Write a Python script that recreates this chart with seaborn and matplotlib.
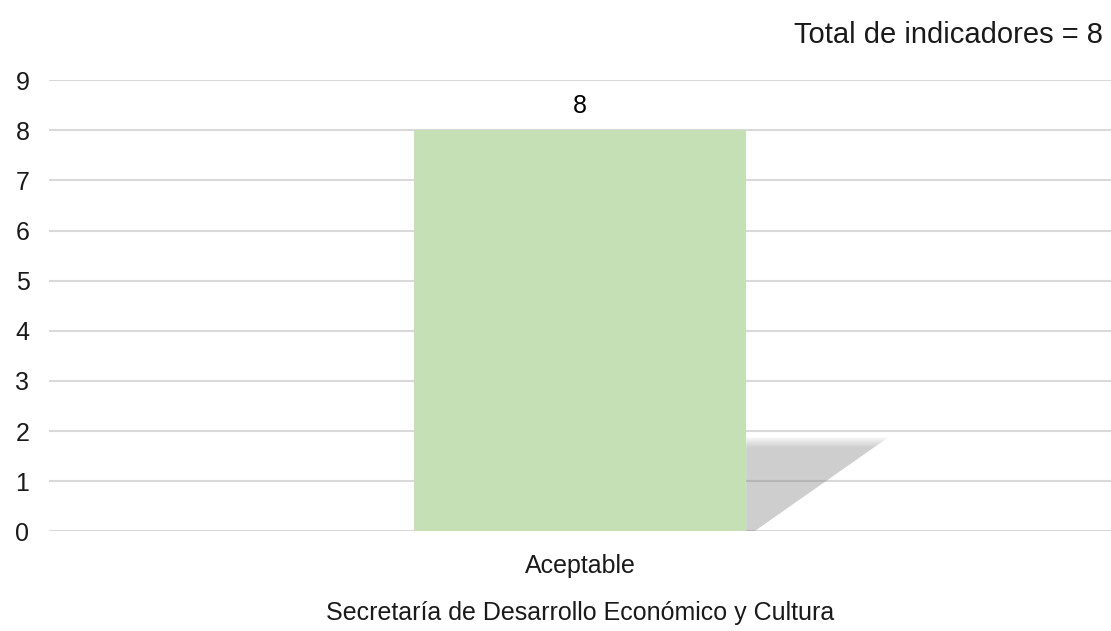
import matplotlib
matplotlib.use('Agg')
import matplotlib.pyplot as plt
import seaborn as sns
import pandas as pd
from matplotlib.patches import Polygon

# datos
categorias = ['Aceptable']
valores = [8]
total_indicadores = 8
titulo = 'Total de indicadores = ' + str(total_indicadores)
etiqueta_x = 'Secretaría de Desarrollo Económico y Cultura'
marcas_y = list(range(0, 10))

sns.set_theme(style='white')
plt.rcParams['font.family'] = ['Liberation Sans', 'DejaVu Sans']

df = pd.DataFrame({'categoria': categorias, 'valor': valores})

fig, ax = plt.subplots(figsize=(11.11, 6.31), dpi=100)
fig.subplots_adjust(left=0.044, right=1.0, top=0.873, bottom=0.158)

sns.barplot(data=df, x='categoria', y='valor', color='#C5E0B4', saturation=1,
            width=0.313, linewidth=0, ax=ax, zorder=3)

# sombra difusa a la derecha de la barra (capas superpuestas)
barra = ax.patches[0]
x0 = barra.get_x() + barra.get_width()
alto = barra.get_height() * 0.235
ext = barra.get_width() * 0.43
for i in range(10):
    f = 1 - i * 0.012
    sombra = Polygon([(x0, 0), (x0 + ext * 0.06 * f, 0), (x0 + ext * f, alto * f),
                      (x0, alto * f)], closed=True, facecolor='#808080',
                     edgecolor='none', alpha=0.045, zorder=2)
    ax.add_patch(sombra)

for v, c in zip(valores, categorias):
    ax.text(0, v + 0.25, str(v), ha='center', va='bottom', fontsize=18, color='black')

ax.set_ylim(0, 9)
ax.set_xlim(-0.5, 0.5)
ax.set_yticks(marcas_y)
ax.yaxis.grid(True, color='#d9d9d9', linewidth=1.5, zorder=0)
ax.set_axisbelow(True)
for s in ax.spines.values():
    s.set_visible(False)
ax.tick_params(axis='x', length=0, labelsize=18, colors='#1a1a1a', pad=16)
ax.tick_params(axis='y', length=0, labelsize=18, colors='#1a1a1a', pad=14)
ax.set_ylabel('')
ax.set_xlabel(etiqueta_x, fontsize=18, color='#1a1a1a', labelpad=17)
fig.text(0.993, 0.945, titulo, ha='right', va='center', fontsize=21, color='#1a1a1a')

fig.savefig('out.png', dpi=100)
